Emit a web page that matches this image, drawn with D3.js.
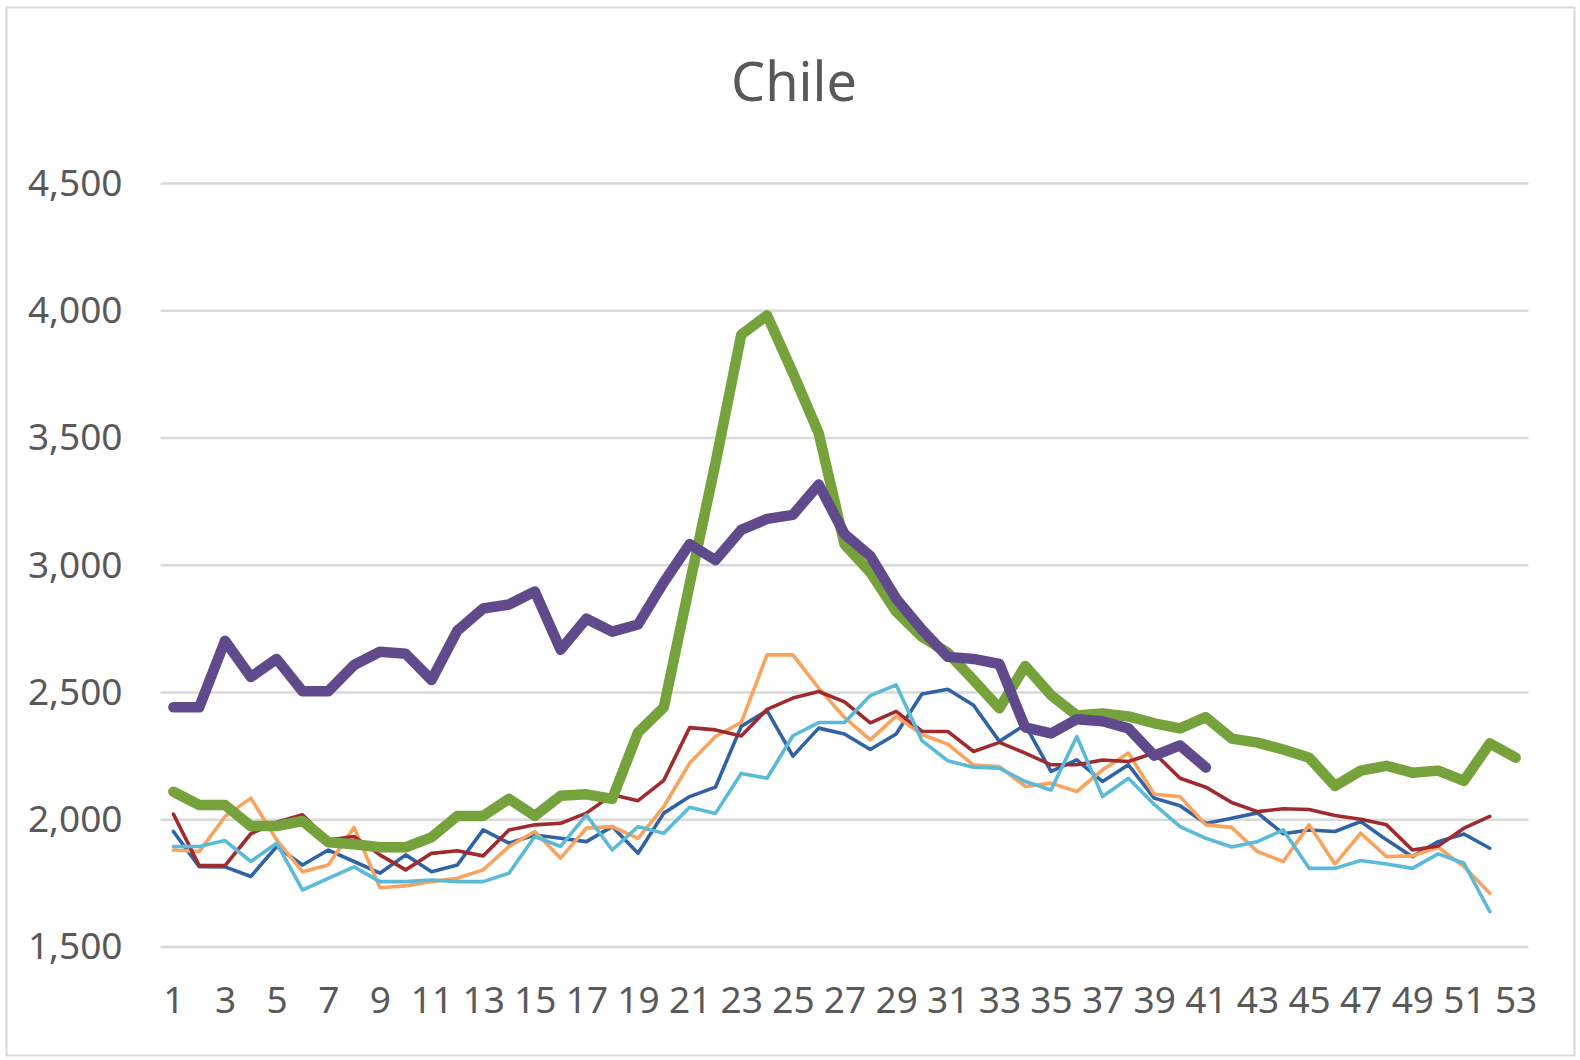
<!DOCTYPE html>
<html>
<head>
<meta charset="utf-8">
<script src="https://cdn.jsdelivr.net/npm/d3@7"></script>
<style>
  body { margin: 0; background: #fff; }
  svg { display: block; }
  .axis text { font-family: "Noto Sans", sans-serif; fill: #595959; }
  .axis path, .axis line { display: none; }
</style>
</head>
<body>
<script>
var width = 1580,
    height = 1060;

// week numbers 1..53
var weeks = d3.range(1, 54);
var xLabels = weeks.filter(function (w) { return w % 2 === 1; });
var yTicks = [1500, 2000, 2500, 3000, 3500, 4000, 4500];

// thin lines, earlier years
var s2016 = [1954, 1816, 1815, 1777, 1895, 1822, 1881, 1836, 1790, 1862, 1796, 1822, 1960, 1908, 1940, 1927, 1914, 1973, 1868, 2026,
             2091, 2128, 2367, 2429, 2250, 2360, 2337, 2276, 2337, 2494, 2513, 2450, 2308, 2373, 2190, 2235, 2150, 2216, 2085, 2055,
             1985, 2006, 2027, 1945, 1960, 1954, 1993, 1921, 1855, 1914, 1944, 1888];
var s2017 = [1881, 1875, 2013, 2085, 1921, 1796, 1822, 1970, 1733, 1740, 1757, 1770, 1803, 1895, 1954, 1849, 1967, 1973, 1927, 2052,
             2222, 2327, 2383, 2648, 2648, 2517, 2402, 2314, 2407, 2335, 2297, 2215, 2209, 2131, 2144, 2111, 2196, 2262, 2100, 2091,
             1980, 1970, 1875, 1836, 1980, 1826, 1947, 1855, 1858, 1892, 1816, 1711];
var s2018 = [2022, 1820, 1820, 1945, 1990, 2020, 1920, 1934, 1862, 1803, 1868, 1878, 1858, 1960, 1980, 1986, 2026, 2098, 2075, 2155,
             2362, 2353, 2329, 2434, 2478, 2504, 2463, 2381, 2426, 2348, 2347, 2268, 2304, 2262, 2216, 2216, 2235, 2229, 2262, 2163,
             2128, 2068, 2032, 2043, 2040, 2017, 2002, 1980, 1881, 1897, 1967, 2013];
var s2019 = [1895, 1895, 1918, 1836, 1908, 1724, 1770, 1815, 1757, 1757, 1763, 1757, 1757, 1790, 1934, 1895, 2019, 1881, 1973, 1947,
             2049, 2025, 2182, 2163, 2330, 2382, 2382, 2488, 2530, 2311, 2232, 2206, 2203, 2150, 2117, 2327, 2091, 2163, 2060, 1973,
             1927, 1893, 1914, 1960, 1809, 1809, 1840, 1826, 1809, 1866, 1829, 1639];

// thick lines
var s2020 = [2110, 2058, 2058, 1975, 1975, 1995, 1912, 1904, 1892, 1892, 1931, 2015, 2015, 2082, 2015, 2094, 2100, 2082, 2343, 2442,
             2925, 3400, 3906, 3982, 3756, 3519, 3083, 2972, 2818, 2719, 2656, 2549, 2438, 2604, 2490, 2410, 2418, 2406, 2379, 2359,
             2403, 2319, 2303, 2276, 2244, 2133, 2193, 2212, 2185, 2193, 2153, 2300, 2244];
var s2021 = [2442, 2442, 2703, 2561, 2632, 2505, 2505, 2608, 2660, 2652, 2549, 2743, 2830, 2846, 2897, 2668, 2790, 2739, 2767, 2933,
             3083, 3020, 3139, 3182, 3198, 3317, 3123, 3036, 2869, 2747, 2640, 2632, 2612, 2363, 2339, 2395, 2387, 2359, 2252, 2292,
             2205];

var series = [
    { name: "2016", values: s2016, color: "#2f63a6", w: 3.6 },
    { name: "2017", values: s2017, color: "#f8a35e", w: 3.6 },
    { name: "2018", values: s2018, color: "#a02b2f", w: 3.6 },
    { name: "2019", values: s2019, color: "#5bbad8", w: 3.6 },
    { name: "2020", values: s2020, color: "#75a23a", w: 10.5 },
    { name: "2021", values: s2021, color: "#604a8b", w: 10.5 }
];

var svg = d3.select("body").append("svg")
    .attr("width", width)
    .attr("height", height);

svg.append("rect")
    .attr("x", 6.5).attr("y", 7.5)
    .attr("width", 1568).attr("height", 1048)
    .attr("fill", "#fff")
    .attr("stroke", "#d9d9d9")
    .attr("stroke-width", 2);

var x = d3.scalePoint()
    .domain(weeks)
    .range([160.5, 1528.5])
    .padding(0.5);

var y = d3.scaleLinear()
    .domain([1500, 4500])
    .range([947, 183.5]);

// gridlines
svg.append("g")
    .selectAll("line")
    .data(yTicks)
    .enter().append("line")
    .attr("x1", 160.5)
    .attr("x2", 1528.5)
    .attr("y1", function (d) { return y(d); })
    .attr("y2", function (d) { return y(d); })
    .attr("stroke", "#d9d9d9")
    .attr("stroke-width", 2.5);

svg.append("g")
    .attr("class", "axis")
    .attr("transform", "translate(160.5,0)")
    .call(d3.axisLeft(y).tickValues(yTicks).tickFormat(d3.format(",")).tickSize(0).tickPadding(38))
    .selectAll("text")
    .style("font-size", "37px");

svg.append("g")
    .attr("class", "axis")
    .attr("transform", "translate(0,947)")
    .call(d3.axisBottom(x).tickValues(xLabels).tickSize(0).tickPadding(40))
    .selectAll("text")
    .style("font-size", "37px");

var line = d3.line()
    .x(function (d, i) { return x(weeks[i]); })
    .y(function (d) { return y(d); });

svg.append("g")
    .selectAll("path")
    .data(series)
    .enter().append("path")
    .attr("d", function (d) { return line(d.values); })
    .attr("fill", "none")
    .attr("stroke", function (d) { return d.color; })
    .attr("stroke-width", function (d) { return d.w; })
    .attr("stroke-linejoin", "round")
    .attr("stroke-linecap", "round");

svg.append("text")
    .attr("x", 794)
    .attr("y", 101)
    .attr("text-anchor", "middle")
    .style("font-family", "'Noto Sans', sans-serif")
    .style("font-size", "54px")
    .style("fill", "#595959")
    .text("Chile");
</script>
</body>
</html>
